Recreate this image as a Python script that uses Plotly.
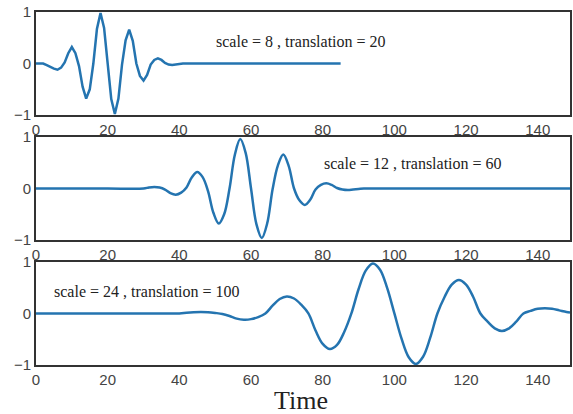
import plotly.graph_objects as go
from plotly.subplots import make_subplots

# Panel 1: scale = 8, translation = 20
x1 = list(range(0, 42)) + [85]
y1 = [0.0, 0.0, 0.0, -0.03, -0.07, -0.10, -0.12, -0.08, 0.02, 0.20,
      0.32, 0.20, -0.05, -0.45, -0.68, -0.50, 0.0, 0.67, 0.98, 0.69,
      0.0, -0.69, -0.98, -0.68, -0.02, 0.45, 0.66, 0.44, 0.0, -0.24,
      -0.33, -0.22, -0.02, 0.07, 0.10, 0.07, 0.01, -0.02, -0.03, -0.02,
      -0.01, 0.0, 0.0]

# Panel 2: scale = 12, translation = 60
x2 = [0, 10, 20, 30, 31.5, 33, 34.5, 36, 37.5, 39, 40.5, 42, 43.5, 45, 46.5,
      48, 49.5, 51, 52.5, 54, 55.5, 57, 58.5, 60, 61.5, 63, 64.5, 66, 67.5,
      69, 70.5, 72, 73.5, 75, 76.5, 78, 79.5, 81, 82.5, 84, 85.5, 87, 88.5,
      90, 91.5, 93, 110, 130, 149]
y2 = [0.0, 0.0, 0.0, 0.0, 0.02, 0.03, 0.02, -0.02, -0.09, -0.12, -0.08, 0.02,
      0.22, 0.32, 0.22, -0.05, -0.47, -0.68, -0.50, 0.0, 0.66, 0.96, 0.69,
      0.0, -0.69, -0.96, -0.68, -0.02, 0.45, 0.66, 0.44, 0.0, -0.23, -0.32,
      -0.22, -0.02, 0.07, 0.10, 0.07, 0.01, -0.02, -0.03, -0.02, -0.01, 0.0,
      0.0, 0.0, 0.0, 0.0]

# Panel 3: scale = 24, translation = 100
x3 = [0, 10, 20, 30, 40, 42, 44, 46, 48, 50, 52, 54, 56, 58, 60, 62, 64, 66,
      68, 70, 72, 74, 76, 78, 80, 82, 84, 86, 88, 90, 92, 94, 96, 98, 100,
      102, 104, 106, 108, 110, 112, 114, 116, 118, 120, 122, 124, 126, 128,
      130, 132, 134, 136, 138, 140, 142, 144, 146, 148, 149]
y3 = [0.0, 0.0, 0.0, 0.0, 0.0, 0.015, 0.025, 0.03, 0.025, 0.01, -0.01, -0.05,
      -0.10, -0.12, -0.11, -0.07, 0.0, 0.15, 0.28, 0.33, 0.29, 0.17, 0.0,
      -0.33, -0.59, -0.69, -0.61, -0.36, 0.0, 0.47, 0.83, 0.97, 0.85, 0.49,
      0.0, -0.49, -0.85, -0.98, -0.84, -0.47, 0.0, 0.32, 0.56, 0.65, 0.56,
      0.32, 0.0, -0.16, -0.29, -0.34, -0.29, -0.16, 0.0, 0.05, 0.09, 0.10,
      0.09, 0.06, 0.03, 0.02]

labels = ["scale = 8 , translation = 20",
          "scale = 12 , translation = 60",
          "scale = 24 , translation = 100"]
label_pos = [(74, 0.42), (105.3, 0.49), (31, 0.43)]

x_ticks = [0, 20, 40, 60, 80, 100, 120, 140]
y_ticks = [-1, 0, 1]
y_ticklabels = ["\u22121", "0", "1"]

fig = make_subplots(rows=3, cols=1, vertical_spacing=0.062)

series = [(x1, y1, "linear"), (x2, y2, "spline"), (x3, y3, "spline")]
for i, (xs, ys, shape) in enumerate(series, start=1):
    fig.add_trace(go.Scatter(x=xs, y=ys, mode="lines",
                             line=dict(color="#2474b0", width=2.5, shape=shape),
                             showlegend=False, cliponaxis=False), row=i, col=1)
    fig.update_xaxes(range=[0, 149], tickvals=x_ticks, showgrid=False,
                     zeroline=False, showline=True, mirror=True,
                     linecolor="#333333", linewidth=2, ticks="",
                     tickfont=dict(family="Liberation Sans", size=15, color="#444444"),
                     row=i, col=1)
    fig.update_yaxes(range=[-1, 1], tickvals=y_ticks, ticktext=y_ticklabels,
                     showgrid=False, zeroline=False, showline=True, mirror=True,
                     linecolor="#333333", linewidth=2, ticks="",
                     tickfont=dict(family="Liberation Sans", size=15, color="#444444"),
                     row=i, col=1)
    ax = "x" if i == 1 else f"x{i}"
    ay = "y" if i == 1 else f"y{i}"
    fig.add_annotation(x=label_pos[i - 1][0], y=label_pos[i - 1][1],
                       xref=ax, yref=ay, text=labels[i - 1], showarrow=False,
                       font=dict(family="Liberation Serif", size=16, color="#222222"))

fig.update_layout(yaxis=dict(domain=[0.708, 1.0]),
                  yaxis2=dict(domain=[0.354, 0.646]),
                  yaxis3=dict(domain=[0.0, 0.292]))

fig.add_annotation(x=0.497, y=-0.1, xref="paper", yref="paper", text="Time",
                   showarrow=False, yanchor="middle",
                   font=dict(family="Liberation Serif", size=26, color="#222222"))

fig.update_layout(width=573, height=414, margin=dict(l=36, r=1, t=12, b=49),
                  plot_bgcolor="white", paper_bgcolor="white")

fig.write_html("out.html")
